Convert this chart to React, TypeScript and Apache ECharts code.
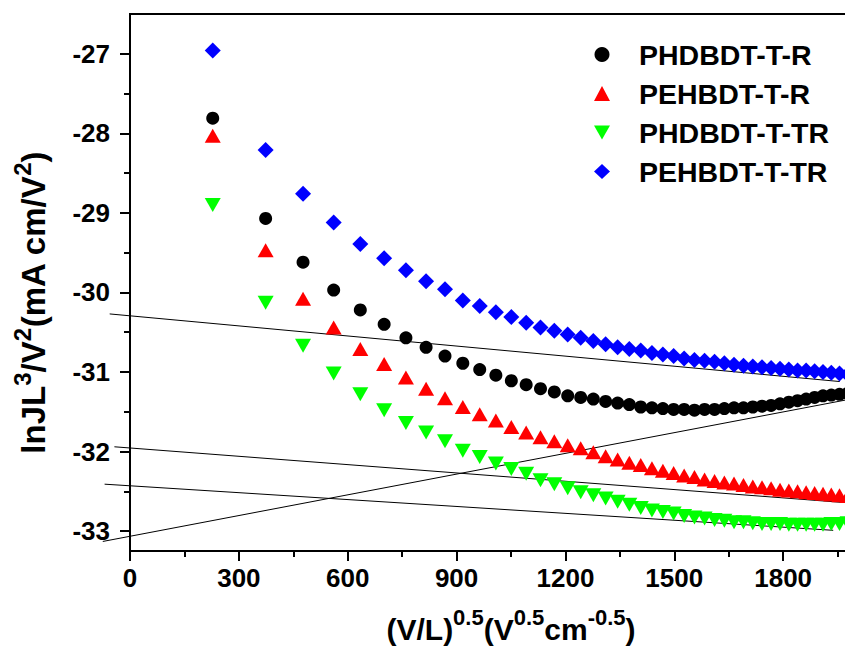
import React, { useEffect, useRef } from "react";
import * as echarts from "echarts";

// x = (V/L)^0.5 values shared by all four measurements
const xValues = [228.0, 373.8, 476.9, 561.3, 634.7, 700.4, 760.4, 816.0, 868.1, 917.2, 963.8, 1008.3, 1050.9, 1091.8, 1131.3, 1169.4, 1206.3, 1242.1, 1276.9, 1310.8, 1343.9, 1376.1, 1407.6, 1438.4, 1468.6, 1498.2, 1527.2, 1555.6, 1583.5, 1611.0, 1638.0, 1664.6, 1690.7, 1716.4, 1741.8, 1766.8, 1791.4, 1815.7, 1839.7, 1863.4, 1886.8, 1909.9, 1932.7, 1955.3, 1977.6];

const seriesNames = ["PHDBDT-T-R", "PEHBDT-T-R", "PHDBDT-T-TR", "PEHBDT-T-TR"];

const phdbdtR = [
  -27.81, -29.07, -29.62, -29.97, -30.22, -30.40, -30.57, -30.69, -30.80, -30.89,
  -30.97, -31.04, -31.11, -31.16, -31.21, -31.25, -31.30, -31.32, -31.34, -31.37,
  -31.39, -31.41, -31.44, -31.45, -31.46, -31.47, -31.47, -31.48, -31.47, -31.47,
  -31.46, -31.45, -31.45, -31.44, -31.43, -31.42, -31.40, -31.38, -31.36, -31.34,
  -31.32, -31.30, -31.29, -31.28, -31.27,
];
const pehbdtR = [
  -28.03, -29.47, -30.08, -30.44, -30.71, -30.90, -31.07, -31.21, -31.33, -31.44,
  -31.53, -31.61, -31.69, -31.76, -31.82, -31.87, -31.92, -31.96, -32.01, -32.06,
  -32.10, -32.14, -32.17, -32.21, -32.24, -32.27, -32.30, -32.32, -32.35, -32.37,
  -32.39, -32.40, -32.42, -32.44, -32.45, -32.46, -32.48, -32.49, -32.50, -32.51,
  -32.52, -32.53, -32.54, -32.55, -32.56,
];
const phdbdtTR = [
  -28.90, -30.13, -30.67, -31.02, -31.28, -31.48, -31.64, -31.76, -31.87, -31.99,
  -32.07, -32.15, -32.22, -32.28, -32.36, -32.41, -32.46, -32.51, -32.55, -32.59,
  -32.63, -32.67, -32.71, -32.74, -32.76, -32.78, -32.81, -32.83, -32.84, -32.86,
  -32.87, -32.89, -32.89, -32.90, -32.91, -32.91, -32.91, -32.92, -32.92, -32.92,
  -32.92, -32.92, -32.91, -32.91, -32.90,
];
const pehbdtTR = [
  -26.96, -28.21, -28.76, -29.12, -29.39, -29.57, -29.72, -29.86, -29.96, -30.10,
  -30.17, -30.25, -30.31, -30.38, -30.44, -30.48, -30.53, -30.57, -30.61, -30.65,
  -30.69, -30.71, -30.73, -30.76, -30.78, -30.80, -30.83, -30.85, -30.86, -30.87,
  -30.89, -30.91, -30.92, -30.93, -30.94, -30.95, -30.96, -30.97, -30.98, -30.98,
  -30.99, -31.00, -31.01, -31.02, -31.03,
];

// straight fit lines: [x1, y1, x2, y2]
const fitLineA = [-56, -30.27, 1956, -31.12];
const fitLineB = [-43, -31.94, 1965, -32.64];
const fitLineC = [-70, -32.41, 1938, -32.99];
const fitLineD = [-75, -33.13, 1975, -31.35];

const xTickLabels = [0, 300, 600, 900, 1200, 1500, 1800];
const yMajorTicks = [-33, -32, -31, -30, -29, -28, -27];
const yMinorTicks = [-32.5, -31.5, -30.5, -29.5, -28.5, -27.5];

const FONT = "'Liberation Sans', Arial, sans-serif";
const DOWN_TRI = "path://M0,0L16,0L8,14Z";

export default function App() {
  const ref = useRef<HTMLDivElement>(null);
  useEffect(() => {
    if (!ref.current) return;
    const chart = echarts.init(ref.current, undefined, { renderer: "svg" });
    const pts = (ys: number[]) => xValues.map((x, i) => [x, ys[i]]);
    const scatter = (name: string, ys: number[], symbol: string, size: any, color: string) => ({
      name,
      type: "scatter",
      data: pts(ys),
      symbol,
      symbolSize: size,
      itemStyle: { color, opacity: 1 },
      clip: false,
      silent: true,
    });
    const labelStyle = { color: "#000", fontFamily: FONT, fontWeight: "bold", fontSize: 26 };
    const richX = {
      b: { fontFamily: FONT, fontWeight: "bold", fontSize: 30, color: "#000", lineHeight: 38, verticalAlign: "bottom" },
      s: { fontFamily: FONT, fontWeight: "bold", fontSize: 22, color: "#000", lineHeight: 24, verticalAlign: "top" },
    };
    const richY = {
      b: { fontFamily: FONT, fontWeight: "bold", fontSize: 33, color: "#000", lineHeight: 40, verticalAlign: "bottom" },
      s: { fontFamily: FONT, fontWeight: "bold", fontSize: 24, color: "#000", lineHeight: 26, verticalAlign: "top" },
    };
    chart.setOption({
      animation: false,
      backgroundColor: "#fff",
      grid: { left: 130, right: 8, top: 14, bottom: 93, show: true, borderColor: "#000", borderWidth: 2 },
      legend: {
        data: seriesNames,
        orient: "vertical",
        left: 589,
        top: 35,
        itemWidth: 16,
        itemHeight: 15,
        itemGap: 10,
        textStyle: {
          color: "#000", fontFamily: FONT, fontWeight: "bold", fontSize: 28.5, lineHeight: 29,
          padding: [0, 0, 0, 24],
        },
      },
      xAxis: {
        type: "value",
        min: 0,
        max: 2100,
        interval: 300,
        splitLine: { show: false },
        axisLine: { onZero: false, lineStyle: { color: "#000", width: 2 } },
        axisTick: { length: 10, lineStyle: { color: "#000", width: 2 } },
        minorTick: { show: true, splitNumber: 2, length: 6, lineStyle: { color: "#000", width: 2 } },
        axisLabel: {
          ...labelStyle, margin: 14, customValues: xTickLabels,
          formatter: (v: number) => String(v),
        },
        name: "{b|(V/L)}{s|0.5}{b|(V}{s|0.5}{b|cm}{s|-0.5}{b|)}",
        nameLocation: "middle",
        nameGap: 55,
        nameTextStyle: { rich: richX },
      },
      yAxis: [
        {
          type: "value",
          min: -33.25,
          max: -26.5,
          interval: 1,
          position: "left",
          splitLine: { show: false },
          axisLine: { onZero: false, lineStyle: { color: "#000", width: 2 } },
          axisTick: { length: 10, customValues: yMajorTicks, lineStyle: { color: "#000", width: 2 } },
          axisLabel: { ...labelStyle, margin: 20, customValues: yMajorTicks, formatter: (v: number) => String(v) },
          name: "{b|lnJL}{s|3}{b|/V}{s|2}{b|(mA cm/V}{s|2}{b|)}",
          nameLocation: "middle",
          nameRotate: 90,
          nameGap: 80,
          nameTextStyle: { rich: richY, padding: [0, 40, 0, 0] },
        },
        {
          type: "value",
          min: -33.25,
          max: -26.5,
          interval: 1,
          position: "left",
          splitLine: { show: false },
          axisLine: { show: false, onZero: false },
          axisTick: { length: 6, customValues: yMinorTicks, lineStyle: { color: "#000", width: 2 } },
          axisLabel: { show: false },
        },
      ],
      series: [
        scatter(seriesNames[0], phdbdtR, "circle", 13, "#000000"),
        scatter(seriesNames[1], pehbdtR, "triangle", [16, 14], "#ff0000"),
        scatter(seriesNames[2], phdbdtTR, DOWN_TRI, [16, 14], "#00ff00"),
        scatter(seriesNames[3], pehbdtTR, "diamond", 16, "#0000ff"),
        {
          type: "custom",
          data: [fitLineA, fitLineB, fitLineC, fitLineD],
          encode: { x: [0, 2], y: [1, 3] },
          clip: false,
          silent: true,
          z: 1,
          renderItem: (_p: any, api: any) => {
            const p1 = api.coord([api.value(0), api.value(1)]);
            const p2 = api.coord([api.value(2), api.value(3)]);
            return {
              type: "line",
              shape: { x1: p1[0], y1: p1[1], x2: p2[0], y2: p2[1] },
              style: { stroke: "#000", lineWidth: 1 },
            };
          },
        },
      ],
    });
    return () => chart.dispose();
  }, []);
  return (
    <div style={{ position: "fixed", left: 0, top: 0, width: 845, height: 649, overflow: "hidden", background: "#fff" }}>
      <div ref={ref} style={{ width: 900, height: 649 }} />
    </div>
  );
}
